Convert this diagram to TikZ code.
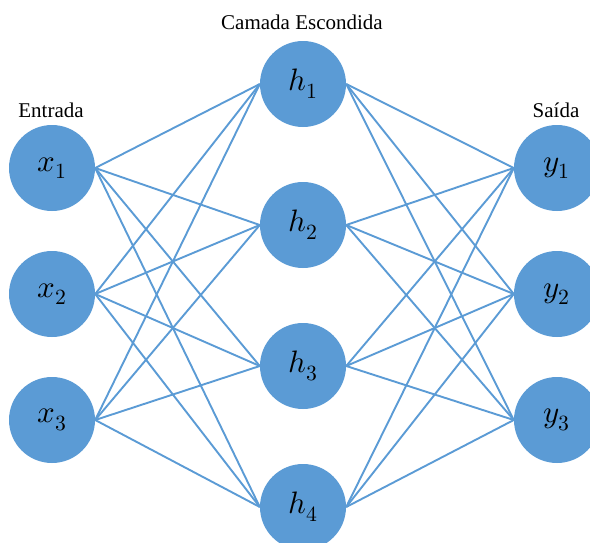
\documentclass[tikz,border=0pt]{standalone}
\usepackage{amsmath}
\usepackage{unicode-math}
\setmainfont{Liberation Serif}
\usepackage{tikz}
\usetikzlibrary{backgrounds}
\usepackage{xcolor}
\definecolor{neuronblue} {RGB}{91, 155, 213}

\tikzset{
  neuron/.style={circle, fill=neuronblue, inner sep=0pt, minimum size=86pt,
                 font=\fontsize{31}{34}\selectfont},
  synapse/.style={draw=neuronblue, line width=1.9pt},
  layertitle/.style={font=\fontsize{21}{24}\selectfont}
}

\begin{document}
\begin{tikzpicture}[x=1pt, y=-1pt]
    \useasboundingbox (0,0) rectangle (590,542);
    \clip (0,0) rectangle (590,542);

    % layers
    \foreach \i/\y in {1/168, 2/294, 3/420} {
      \node[neuron] (x\i) at (52,\y)  {$x_{\i}$};
      \node[neuron] (y\i) at (557,\y) {$y_{\i}$};
    }
    \foreach \i/\y in {1/84, 2/225, 3/366, 4/507}
      \node[neuron] (h\i) at (303,\y) {$h_{\i}$};

    \node[layertitle] (tin)  at (51,110)  {Entrada};
    \node[layertitle] (thid) at (302,22)  {Camada Escondida};
    \node[layertitle] (tout) at (556,110) {Saída};

    % connections
    \begin{scope}[on background layer]
      \foreach \i in {1,2,3}
        \foreach \j in {1,2,3,4} {
          \draw[synapse] (x\i.east) -- (h\j.west);
          \draw[synapse] (h\j.east) -- (y\i.west);
        }
    \end{scope}
  \end{tikzpicture}
\end{document}
